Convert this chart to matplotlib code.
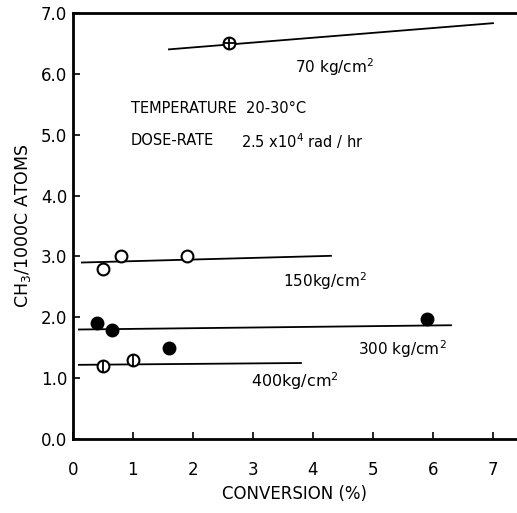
import matplotlib
matplotlib.use("Agg")
import matplotlib.pyplot as plt

# Data
p70_x = [2.6]
p70_y = [6.5]
l70_x = [1.6, 7.0]
l70_y = [6.4, 6.83]

p150_x = [0.5, 0.8, 1.9]
p150_y = [2.8, 3.0, 3.0]
l150_x = [0.15, 4.3]
l150_y = [2.9, 3.01]

p300_x = [0.4, 0.65, 1.6, 5.9]
p300_y = [1.9, 1.8, 1.5, 1.97]
l300_x = [0.1, 6.3]
l300_y = [1.8, 1.87]

p400_x = [0.5, 1.0]
p400_y = [1.2, 1.3]
l400_x = [0.1, 3.8]
l400_y = [1.22, 1.25]

xticks = [0, 1, 2, 3, 4, 5, 6, 7]
xticklabels = ["0", "1", "2", "3", "4", "5", "6", "7"]
yticks = [0, 1, 2, 3, 4, 5, 6, 7]
yticklabels = ["0.0", "1.0", "2.0", "3.0", "4.0", "5.0", "6.0", "7.0"]

fig = plt.figure(figsize=(5.17, 5.13), dpi=100)
ax = fig.add_axes([0.141, 0.144, 0.859, 0.831])

lw = 1.3
ms = 8.5
for lx, ly in [(l70_x, l70_y), (l150_x, l150_y), (l300_x, l300_y), (l400_x, l400_y)]:
    ax.plot(lx, ly, color="black", lw=lw, zorder=2)

# 70: crossed circle
ax.plot(p70_x, p70_y, "o", ms=ms, mfc="white", mec="black", mew=1.5, zorder=3)
ax.plot(p70_x, p70_y, "+", ms=ms, mec="black", mew=1.3, zorder=4)
# 150: open circles
ax.plot(p150_x, p150_y, "o", ms=ms, mfc="white", mec="black", mew=1.5, zorder=3)
# 300: filled circles
ax.plot(p300_x, p300_y, "o", ms=ms, mfc="black", mec="black", mew=1.5, zorder=3)
# 400: circle with vertical bar
ax.plot(p400_x, p400_y, "o", ms=ms, mfc="white", mec="black", mew=1.5, zorder=3)
ax.plot(p400_x, p400_y, "|", ms=ms, mec="black", mew=1.3, zorder=4)

ax.set_xlim(0, 7.4)
ax.set_ylim(0, 7.0)
ax.set_xticks(xticks)
ax.set_xticklabels(xticklabels, fontsize=12)
ax.set_yticks(yticks)
ax.set_yticklabels(yticklabels, fontsize=12)
ax.tick_params(direction="in", length=5, width=1.2, pad=4)
ax.tick_params(axis="x", pad=16)

for s in ["left", "bottom", "top"]:
    ax.spines[s].set_linewidth(2.0)
ax.spines["right"].set_visible(False)

ax.set_xlabel("CONVERSION (%)", fontsize=12, labelpad=4)
ax.set_ylabel("CH$_3$/1000C ATOMS", fontsize=12.5, labelpad=6)

fs = 11
ax.text(3.7, 6.1, "70 kg/cm$^2$", fontsize=fs, va="center")
ax.text(3.5, 2.6, "150kg/cm$^2$", fontsize=fs, va="center")
ax.text(4.75, 1.47, "300 kg/cm$^2$", fontsize=fs, va="center")
ax.text(2.97, 0.96, "400kg/cm$^2$", fontsize=11.5, va="center")
ax.text(0.97, 5.43, "TEMPERATURE  20-30°C", fontsize=10.5, va="center")
ax.text(0.97, 4.9, "DOSE-RATE", fontsize=10.5, va="center")
ax.text(2.8, 4.9, "2.5 x10$^4$ rad / hr", fontsize=10.5, va="center")

fig.savefig("out.png", dpi=100)
